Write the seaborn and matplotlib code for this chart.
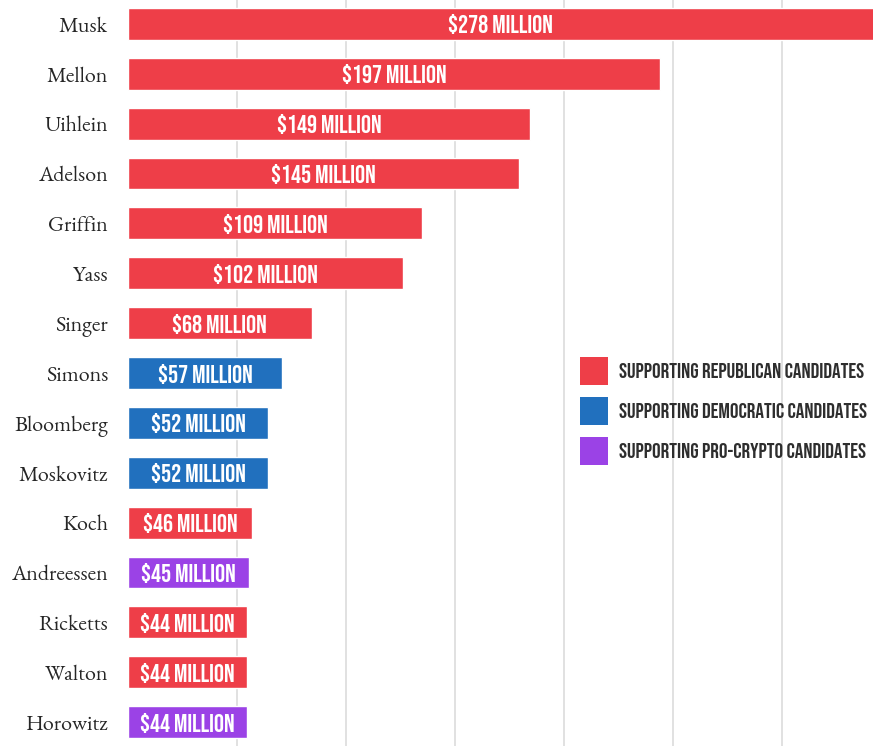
import matplotlib
matplotlib.use("Agg")
import matplotlib.pyplot as plt
from matplotlib.patches import Patch
from matplotlib import font_manager as fm
import seaborn as sns
import pandas as pd
import numpy as np

names = ["Musk", "Mellon", "Uihlein", "Adelson", "Griffin", "Yass", "Singer", "Simons",
         "Bloomberg", "Moskovitz", "Koch", "Andreessen", "Ricketts", "Walton", "Horowitz"]
values = [278, 197, 149, 145, 109, 102, 68, 57, 52, 52, 46, 45, 44, 44, 44]
groups = ["Republican", "Republican", "Republican", "Republican", "Republican", "Republican",
          "Republican", "Democratic", "Democratic", "Democratic", "Republican", "Pro-crypto",
          "Republican", "Republican", "Pro-crypto"]
legend_labels = ["SUPPORTING REPUBLICAN CANDIDATES", "SUPPORTING DEMOCRATIC CANDIDATES",
                 "SUPPORTING PRO-CRYPTO CANDIDATES"]
group_order = ["Republican", "Democratic", "Pro-crypto"]

palette = {"Republican": "#EE3E48", "Democratic": "#2170BE", "Pro-crypto": "#9B42E6"}

available = {f.name for f in fm.fontManager.ttflist}


def pick(cands, default):
    for c in cands:
        if c in available:
            return c
    return default


cond_font = pick(["Bebas Neue", "Oswald", "Roboto Condensed", "Barlow Condensed",
                  "Fjalla One", "Antonio", "League Gothic", "PT Sans Narrow"], "DejaVu Sans")
serif_font = pick(["EB Garamond", "Crimson Text", "Crimson Pro", "Cormorant Garamond",
                   "Libre Caslon Text", "Liberation Serif"], "DejaVu Serif")
cond_weight = "normal" if cond_font in ("Bebas Neue", "League Gothic", "Fjalla One") else "bold"

df = pd.DataFrame({"name": names, "value": values, "group": groups})

sns.set_theme(style="white")
fig = plt.figure(figsize=(8.73, 7.46), dpi=100)
renderer = fig.canvas.get_renderer()


def fit_size(text, family, weight, target_px, base=12.0):
    t = fig.text(0, 0, text, family=family, fontweight=weight, fontsize=base)
    w = t.get_window_extent(renderer).width
    t.remove()
    return base * target_px / w


bar_fs = fit_size("$278 MILLION", cond_font, cond_weight, 104)
name_fs = fit_size("Bloomberg", serif_font, "normal", 94)
leg_fs = fit_size(legend_labels[0], cond_font, cond_weight, 243)

ax = fig.add_axes([128 / 873, 0.0, 1 - 128 / 873, 1.0])

sns.barplot(data=df, x="value", y="name", hue="group", palette=palette, dodge=False,
            orient="h", width=0.64, ax=ax, legend=False, saturation=1, zorder=3)

xmax = 276
ax.set_xlim(0, xmax)
ax.set_ylim(len(names) - 1 + 0.48, -0.48)
for gx in np.arange(1, 7) * 40.4:
    ax.axvline(gx, color="#DCDCDC", lw=1.2, zorder=1)

for s in ax.spines.values():
    s.set_visible(False)
ax.set_xticks([])
ax.set_xlabel("")
ax.set_ylabel("")
ax.tick_params(axis="y", length=0, pad=14.4)
for lbl in ax.get_yticklabels():
    lbl.set_fontfamily(serif_font)
    lbl.set_fontsize(name_fs)
    lbl.set_color("#262626")

for i, v in enumerate(values):
    cx = min(v, xmax) / 2
    ax.text(cx, i, f"${v} MILLION", ha="center", va="center_baseline", color="white",
            fontsize=bar_fs, fontweight=cond_weight, family=cond_font, zorder=5)

fs_px = leg_fs * 100 / 72
hl = 28 / fs_px
hh = (28 / fs_px - 0.245) / 0.65
ls = (41 - 28) / fs_px - 0.05
handles = [Patch(facecolor=palette[g], edgecolor="none") for g in group_order]
leg = ax.legend(handles, legend_labels, loc="center left",
                bbox_to_anchor=(580 / 873, 1 - 411 / 746), bbox_transform=fig.transFigure,
                frameon=False, handlelength=hl, handleheight=hh, labelspacing=ls,
                handletextpad=0.5, borderpad=0, borderaxespad=0,
                prop={"family": cond_font, "weight": cond_weight, "size": leg_fs})
for t in leg.get_texts():
    t.set_color("#2E2E2E")

fig.savefig("out.png", dpi=100)
